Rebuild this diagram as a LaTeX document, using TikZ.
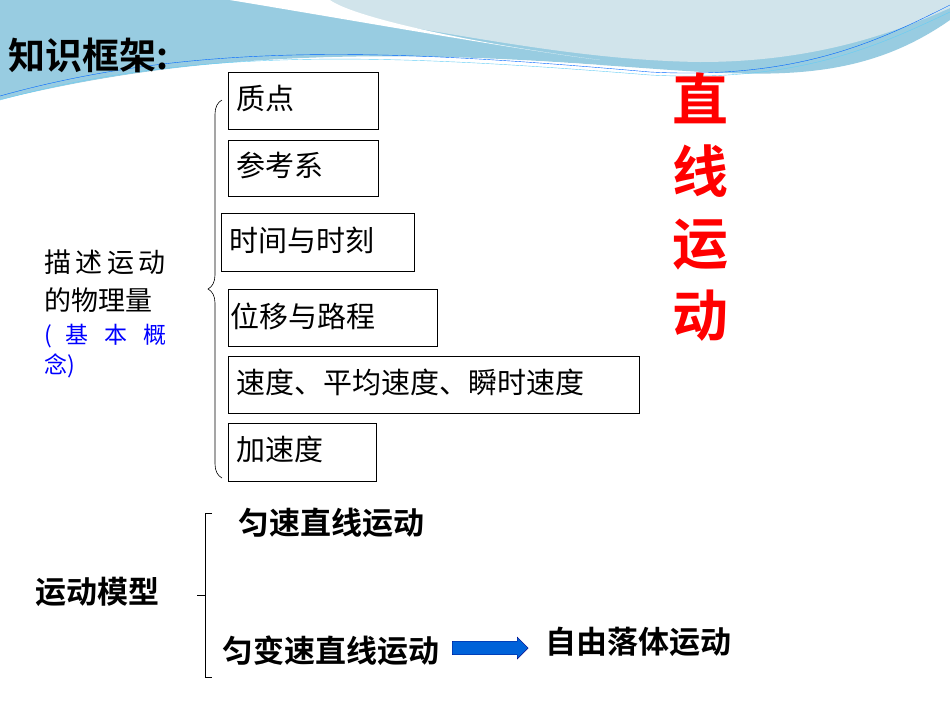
\documentclass[tikz,border=0pt]{standalone}
\usepackage{fontspec}
\setmainfont{Noto Sans CJK SC}
\newfontfamily\cjkb{Noto Sans CJK SC Bold}
\usetikzlibrary{shapes.arrows,decorations.pathreplacing}
\begin{document}
\begin{tikzpicture}[x=1pt,y=-1pt,
  kbox/.style={draw,thick,anchor=north west,inner sep=0pt},
  ktxt/.style={anchor=west,inner sep=0pt,font=\fontsize{29}{29}\selectfont},
  btxt/.style={font=\cjkb\fontsize{31}{31}\selectfont,anchor=west,inner sep=0pt}]
\useasboundingbox (0,0) rectangle (950,713);
\fill[white] (0,0) rectangle (950,713);
% top wave
\fill[cyan!50!teal!45!white] (0,0) -- (950,0) -- (950,20) .. controls (850,90) and (750,75) .. (600,65) .. controls (400,50) and (200,50) .. (0,100) -- cycle;
\fill[cyan!20!teal!20!white] (230,0) .. controls (400,20) and (550,60) .. (700,62) .. controls (820,62) and (900,30) .. (950,8) -- (950,0) -- cycle;
\fill[white] (230,0) .. controls (380,25) and (520,50) .. (600,60) .. controls (450,40) and (350,15) .. (330,0) -- cycle;
\fill[white] (0,100) .. controls (150,65) and (300,45) .. (600,65) .. controls (300,55) and (150,75) .. (0,108) -- cycle;
\draw[blue!60!cyan,thin] (0,96) .. controls (200,40) and (400,50) .. (650,72) .. controls (800,80) and (880,40) .. (950,5);
\draw[cyan!60,thin] (0,100) .. controls (200,45) and (400,55) .. (650,75) .. controls (800,83) and (880,45) .. (950,12);
% title
\node[btxt,font=\cjkb\fontsize{37}{37}\selectfont] (title) at (8,55) {知识框架:};
% boxes
\node[kbox,minimum width=150,minimum height=57] (b1) at (228,72) {};
\node[ktxt] (t1) at (236,98) {质点};
\node[kbox,minimum width=150,minimum height=56] (b2) at (228,140) {};
\node[ktxt] (t2) at (236,165) {参考系};
\node[kbox,minimum width=193,minimum height=58] (b3) at (221,213) {};
\node[ktxt] (t3) at (229,240) {时间与时刻};
\node[kbox,minimum width=209,minimum height=57] (b4) at (228,289) {};
\node[ktxt] (t4) at (230,316) {位移与路程};
\node[kbox,minimum width=411,minimum height=57] (b5) at (228,356) {};
\node[ktxt] (t5) at (236,382) {速度、平均速度、瞬时速度};
\node[kbox,minimum width=148,minimum height=58] (b6) at (228,423) {};
\node[ktxt] (t6) at (236,449) {加速度};
% brace
\draw[semithick,decorate,decoration={brace,amplitude=14pt}] (222,478) -- (222,100);
% left label
\node[anchor=west,inner sep=0pt,font=\fontsize{27}{27}\selectfont] (l1) at (44,262) {描\,述\,运\,动};
\node[anchor=west,inner sep=0pt,font=\fontsize{27}{27}\selectfont] (l2) at (44,300) {的物理量};
\node[anchor=west,inner sep=0pt,font=\fontsize{23}{23}\selectfont,text=blue] (l3) at (44,336) {(\hspace{14pt}基\hspace{16pt}本\hspace{16pt}概};
\node[anchor=west,inner sep=0pt,font=\fontsize{23}{23}\selectfont,text=blue] (l4) at (44,366) {念)};
% red vertical
\node[align=center,text=red,font=\cjkb\fontsize{56}{72}\selectfont] (red) at (700,207) {直\\线\\运\\动};
% lower part
\draw[thick] (212,513) -- (205,513) -- (205,677) -- (212,677);
\draw[thick] (197,595) -- (205,595);
\node[btxt] (m0) at (35,592) {运动模型};
\node[btxt] (m1) at (238,523) {匀速直线运动};
\node[btxt] (m2) at (222,651) {匀变速直线运动};
\node[btxt] (m3) at (545,642) {自由落体运动};
\node[single arrow,fill=blue!55!cyan!85!black,draw=blue!50!black,minimum height=76,minimum width=22,single arrow head extend=2pt,inner sep=3pt,anchor=west] (arr) at (452,648) {};
\end{tikzpicture}
\end{document}
